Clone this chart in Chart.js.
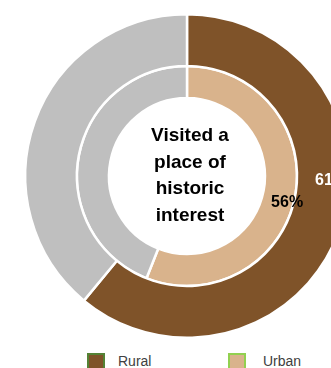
<!DOCTYPE html>
<html>
<head>
<meta charset="utf-8">
<script src="https://cdn.jsdelivr.net/npm/chart.js@4.4.0/dist/chart.umd.min.js"></script>
<style>
  html, body { margin: 0; padding: 0; background: #fff; overflow: hidden; width: 331px; height: 368px; }
  #wrap { position: absolute; left: 0; top: 0; width: 374px; height: 352px; }
  .legend { position: absolute; top: 352px; font-family: "Liberation Sans", Arial, sans-serif; font-size: 14px; color: #404040; }
  .legend span.box { position: absolute; top: 1px; width: 14px; height: 14px; border: 2px solid; }
  .legend span.txt { position: absolute; top: 1px; }
</style>
</head>
<body>
<div id="wrap"><canvas id="doughnut_Visit"></canvas></div>
<div class="legend" id="legend"></div>
<script>

const seriesNames = ["Rural", "Urban"];
const visited = [61, 56];          // % who visited a place of historic interest
const notVisited = [39, 44];
const sliceColors = ["rgb(127,83,41)", "rgb(217,179,140)"];
const restColor = "rgb(191,191,191)";
const legendBorders = ["rgb(84,130,53)", "rgb(146,208,80)"];
const labelColors = ["#ffffff", "#000000"];
const centerLines = ["Visited a", "place of", "historic", "interest"];

// where Excel put each percentage (degrees clockwise from top, radius fraction inside ring)
const labelAngle = [92, 105];
const labelRadius = [0.66, 0.8];

const centerText = {
    id: "centerText",
    afterDraw(chart) {
        const ctx = chart.ctx;
        const meta0 = chart.getDatasetMeta(0).data[0];
        ctx.save();
        ctx.fillStyle = "#000";
        ctx.textAlign = "center";
        ctx.textBaseline = "middle";
        ctx.font = "bold 19px 'Liberation Sans Narrow', 'Liberation Sans', sans-serif";
        const lh = 26.5;
        const y0 = meta0.y - lh * (centerLines.length - 1) / 2;
        centerLines.forEach((t, i) => ctx.fillText(t, meta0.x + 3, y0 + i * lh));

        ctx.font = "bold 16px 'Liberation Sans Narrow', 'Liberation Sans', sans-serif";
        chart.data.datasets.forEach((ds, i) => {
            const arc = chart.getDatasetMeta(i).data[0];
            const r = arc.innerRadius + (arc.outerRadius - arc.innerRadius) * labelRadius[i];
            const a = labelAngle[i] * Math.PI / 180;
            ctx.fillStyle = labelColors[i];
            ctx.fillText(ds.data[0] + "%", arc.x + r * Math.sin(a), arc.y - r * Math.cos(a));
        });
        ctx.restore();
    }
};

const config_Visit = {
    type: "doughnut",
    data: {
        labels: ["Visited", "Not visited"],
        datasets: seriesNames.map((name, i) => ({
            label: name,
            data: [visited[i], notVisited[i]],
            backgroundColor: [sliceColors[i], restColor],
            borderColor: "#ffffff",
            borderWidth: 2.5,
            weight: i === 0 ? 50 : 31
        }))
    },
    options: {
        responsive: true,
        maintainAspectRatio: false,
        animation: false,
        cutout: 78,
        layout: { padding: { top: 12, bottom: 12, left: 24, right: 24 } },
        plugins: {
            legend: { display: false },
            tooltip: { enabled: false }
        }
    },
    plugins: [centerText]
};

const legend = document.getElementById("legend");
const legendX = [87, 228];
const legendTextX = [118, 263];
seriesNames.forEach((name, i) => {
    legend.innerHTML += '<span class="box" style="left:' + legendX[i] + 'px;background:' + sliceColors[i] +
        ';border-color:' + legendBorders[i] + '"></span><span class="txt" style="left:' + legendTextX[i] + 'px">' + name + '</span>';
});

const ctx_Visit = document.getElementById("doughnut_Visit").getContext("2d");
const myChart_Visit = new Chart(ctx_Visit, config_Visit);

</script>
</body>
</html>
